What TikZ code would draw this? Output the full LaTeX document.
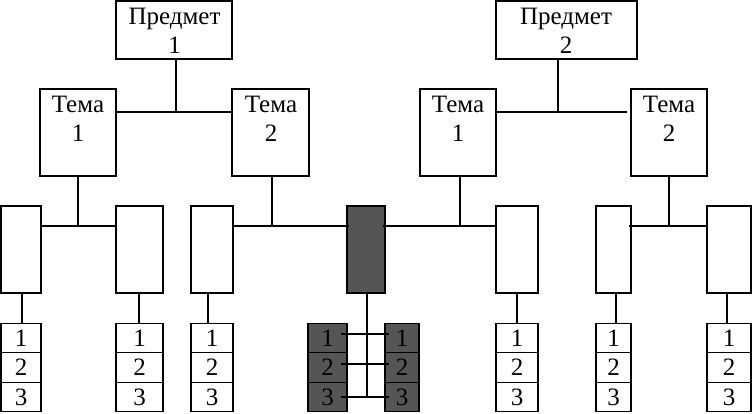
\documentclass[tikz,border=0pt]{standalone}
\usepackage{fontspec}
\setmainfont{Liberation Serif}
\definecolor{dk}{RGB}{85,85,85}
\newcommand{\boxat}[6]{%
  \node[box,#6,minimum width={#4-#2},minimum height={#5-#3}] (#1) at ({(#2+#4)/2},{(#3+#5)/2}) {};}
\newcommand{\mystack}[4]{%
  \foreach \i/\yc in {1/338,2/367.5,3/397}{%
    \node[cell,#4,minimum width={#3-#2}] (#1\i) at ({(#2+#3)/2},\yc) {\i};}}
\begin{document}
\begin{tikzpicture}[x=1pt,y=-1pt,
  box/.style={draw,line width=1.1pt,inner sep=0pt},
  cell/.style={draw,line width=1.1pt,inner sep=0pt,minimum height=29.7pt,font=\fontsize{25}{29}\selectfont},
  lbl/.style={anchor=north,inner sep=0pt,align=center,font=\fontsize{25}{29.5}\selectfont},
  conn/.style={line width=1.1pt},
  thick conn/.style={line width=1.7pt},
  dark/.style={fill=dk}]
\useasboundingbox (0,0) rectangle (752,413);
% level 1
\boxat{p1}{116}{1}{232}{59}{}
\boxat{p2}{496}{1}{637}{59}{}
% level 2
\boxat{t1}{40}{89}{116}{176}{}
\boxat{t2}{232}{89}{309}{176}{}
\boxat{t3}{420}{89}{496}{176}{}
\boxat{t4}{631}{89}{707}{176}{}
% level 3
\boxat{a}{1}{206}{41}{293}{}
\boxat{b}{116}{206}{163}{293}{}
\boxat{c}{191}{206}{233}{293}{}
\boxat{m}{347}{206}{385}{293}{dark}
\boxat{d}{496}{206}{538}{293}{}
\boxat{e}{596}{206}{631}{293}{}
\boxat{f}{707}{206}{751}{293}{}
% stacks
\mystack{a}{1}{41}{}
\mystack{b}{116}{163}{}
\mystack{c}{191}{233}{}
\mystack{ml}{308}{347}{dark}
\mystack{mr}{385}{419}{dark}
\mystack{d}{496}{538}{}
\mystack{e}{596}{631}{}
\mystack{f}{707}{751}{}
% labels
\node[lbl] (p1t) at (174.5,7.5) {Предмет\\1};
\node[lbl] (p2t) at (566,7.5) {Предмет\\2};
\node[lbl] (t1t) at (78,95.5) {Тема\\1};
\node[lbl] (t2t) at (271,95.5) {Тема\\2};
\node[lbl] (t3t) at (458,95.5) {Тема\\1};
\node[lbl] (t4t) at (669,95.5) {Тема\\2};
% column positions of vertical connectors
\coordinate (xt1) at (78,0);
\coordinate (xt2) at (272,0);
\coordinate (xt3) at (460,0);
\coordinate (xt4) at (669,0);
\coordinate (xa) at (22,0);
\coordinate (xb) at (139,0);
\coordinate (xc) at (208,0);
\coordinate (xm) at (367,0);
\coordinate (xd) at (517,0);
\coordinate (xe) at (616,0);
\coordinate (xf) at (727,0);
% connectors level 1-2
\coordinate (j1) at (176,112);
\coordinate (j2) at (558,112);
\draw[conn] (p1.south -| j1) -- (j1);
\draw[conn] (t1.east |- j1) -- (t2.west |- j1);
\draw[conn] (p2.south -| j2) -- (j2);
\draw[conn] (t3.east |- j2) -- ([xshift=-3pt]t4.west |- j2);
% connectors level 2-3
\coordinate (r) at (0,226);
\foreach \n in {t1,t2,t3,t4}{\draw[conn] (\n.south -| x\n) -- (x\n |- r);}
\draw[conn] (a.east |- r) -- (b.west |- r);
\draw[conn] (c.east |- r) -- ([xshift=3pt]m.west |- r);
\draw[thick conn] ([xshift=-3pt]m.east |- r) -- (d.west |- r);
\draw[thick conn] ([xshift=-3pt]e.east |- r) -- (f.west |- r);
% connectors level 3-stacks
\foreach \n in {a,b,c,d,e,f}{\draw[conn] (\n.south -| x\n) -- (\n1.north -| x\n);}
\draw[conn] (m.south -| xm) -- (xm |- ml3.east);
\draw[conn] ([xshift=-7pt,yshift=4pt]ml1.east) -- ([xshift=5pt,yshift=4pt]mr1.west);
\draw[conn] ([xshift=-7pt,yshift=3.5pt]ml2.east) -- ([xshift=5pt,yshift=3.5pt]mr2.west);
\draw[conn] ([xshift=-7pt]ml3.east) -- ([xshift=5pt]mr3.west);
\end{tikzpicture}
\end{document}
